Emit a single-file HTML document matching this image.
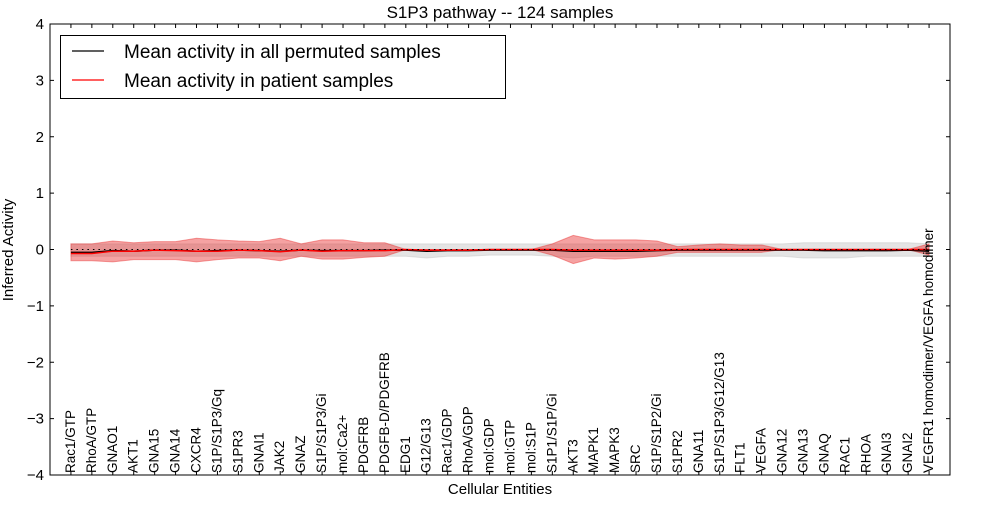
<!DOCTYPE html>
<html><head><meta charset="utf-8"><style>
body{margin:0;background:#fff;font-family:"Liberation Sans",sans-serif}
svg text{font-family:"Liberation Sans",sans-serif}
</style></head><body>
<svg id="c" width="1000" height="500"></svg>
<script>
const categories=["Rac1/GTP","RhoA/GTP","GNAO1","AKT1","GNA15","GNA14","CXCR4","S1P/S1P3/Gq","S1PR3","GNAI1","JAK2","GNAZ","S1P/S1P3/Gi","mol:Ca2+","PDGFRB","PDGFB-D/PDGFRB","EDG1","G12/G13","Rac1/GDP","RhoA/GDP","mol:GDP","mol:GTP","mol:S1P","S1P1/S1P/Gi","AKT3","MAPK1","MAPK3","SRC","S1P/S1P2/Gi","S1PR2","GNA11","S1P/S1P3/G12/G13","FLT1","VEGFA","GNA12","GNA13","GNAQ","RAC1","RHOA","GNAI3","GNAI2","VEGFR1 homodimer/VEGFA homodimer"];
const patientMean=[-0.07,-0.07,-0.03,-0.03,-0.01,-0.02,-0.03,-0.03,-0.01,-0.02,-0.04,-0.01,-0.03,-0.02,-0.02,-0.02,0,-0.01,-0.01,-0.01,0,0,0,0,-0.01,-0.01,-0.01,-0.01,-0.01,0,0,0,0,0,0,0,0,0,0,0,0,0];
const patientHi=[0.1,0.1,0.15,0.12,0.14,0.14,0.2,0.17,0.15,0.14,0.2,0.1,0.17,0.17,0.12,0.12,0,0,0,0,0,0,0,0.1,0.25,0.17,0.17,0.17,0.15,0.05,0.08,0.1,0.08,0.08,0,0,0,0,0,0,0,0.1];
const patientLo=[-0.2,-0.2,-0.22,-0.18,-0.18,-0.18,-0.22,-0.18,-0.15,-0.15,-0.2,-0.12,-0.17,-0.17,-0.14,-0.12,0,0,0,0,0,0,0,-0.1,-0.25,-0.15,-0.17,-0.15,-0.12,-0.05,-0.05,-0.05,-0.05,-0.05,0,0,0,0,0,0,0,-0.1];
const permMean=[-0.05,-0.05,-0.02,-0.03,-0.01,-0.01,-0.03,-0.02,-0.01,-0.02,-0.03,-0.01,-0.02,-0.02,-0.02,-0.01,-0.01,-0.03,-0.02,-0.02,-0.01,-0.01,-0.01,-0.01,-0.03,-0.03,-0.03,-0.03,-0.02,-0.01,-0.01,-0.01,-0.01,-0.01,-0.01,-0.01,-0.02,-0.02,-0.02,-0.02,-0.01,-0.03];
const permHi=[0.1,0.1,0.1,0.1,0.1,0.1,0.1,0.1,0.1,0.1,0.1,0.1,0.1,0.1,0.1,0.1,0.1,0.1,0.1,0.1,0.1,0.1,0.1,0.1,0.1,0.1,0.1,0.1,0.1,0.1,0.1,0.1,0.1,0.1,0.1,0.12,0.12,0.12,0.12,0.12,0.12,0.1];
const permLo=[-0.12,-0.12,-0.12,-0.12,-0.12,-0.12,-0.12,-0.12,-0.12,-0.12,-0.12,-0.12,-0.12,-0.12,-0.12,-0.12,-0.12,-0.15,-0.12,-0.12,-0.1,-0.1,-0.1,-0.12,-0.15,-0.12,-0.12,-0.12,-0.12,-0.12,-0.12,-0.12,-0.12,-0.12,-0.12,-0.15,-0.15,-0.15,-0.12,-0.12,-0.12,-0.12];
const yTicks=[-4,-3,-2,-1,0,1,2,3,4];
const yTickLabels=["\u22124","\u22123","\u22122","\u22121","0","1","2","3","4"];

const L=50,R=950,T=24,B=475;
const n=categories.length;
const X=i=>L+(i+1)*(R-L)/(n+1);
const Y=v=>T+(4-v)*(B-T)/8;
const svg=document.getElementById('c');
const NS='http://www.w3.org/2000/svg';
function mk(tag,attrs,parent){const e=document.createElementNS(NS,tag);for(const k in attrs)e.setAttribute(k,attrs[k]);(parent||svg).appendChild(e);return e;}
function band(hi,lo,fill,op,name){
  let d='M'+hi.map((v,i)=>X(i)+','+Y(v)).join('L');
  for(let i=n-1;i>=0;i--)d+='L'+X(i)+','+Y(lo[i]);
  const p=mk('path',{d:d+'Z',fill:fill,'fill-opacity':op,stroke:fill,'stroke-opacity':op,'stroke-width':1});
  
  
}
function line(vals,col,w,dash,name){
  const p=mk('path',{d:'M'+vals.map((v,i)=>X(i)+','+Y(v)).join('L'),fill:'none',stroke:col,'stroke-width':w});
  if(dash)p.setAttribute('stroke-dasharray',dash);
  
  
}
band(permHi,permLo,'#bbbbbb',0.4,'permuted-band');
band(patientHi,patientLo,'#e83030',0.45,'patient-band');
line(permMean,'#000',1.5,null,'permuted-mean-line');
line(patientMean,'#ff0000',1.5,null,'patient-mean-line');
const zl=mk('line',{x1:X(0),x2:X(n-1),y1:Y(0),y2:Y(0),stroke:'#000','stroke-width':1,'stroke-dasharray':'1.5,4'});


const frame=mk('rect',{x:L,y:T,width:R-L,height:B-T,fill:'none',stroke:'#000','stroke-width':1});


yTicks.forEach((t,i)=>{
  const y=Y(t);
  mk('line',{x1:L,x2:L+4,y1:y,y2:y,stroke:'#000'});
  mk('line',{x1:R-4,x2:R,y1:y,y2:y,stroke:'#000'});
  const tx=mk('text',{x:L-6,y:y+5,'text-anchor':'end','font-size':15});
  tx.textContent=yTickLabels[i];
  
  
});
categories.forEach((c,i)=>{
  const x=X(i);
  mk('line',{x1:x,x2:x,y1:B,y2:B-4,stroke:'#000'});
  mk('line',{x1:x,x2:x,y1:T,y2:T+4,stroke:'#000'});
  const bx=x+4;
  const tx=mk('text',{x:bx,y:B-2,'font-size':13.5,transform:'rotate(-90 '+bx+' '+(B-2)+')'});
  tx.textContent=c;
  
  
});
const title=mk('text',{x:500,y:18,'text-anchor':'middle','font-size':17});
title.textContent='S1P3 pathway -- 124 samples';


const xt=mk('text',{x:500,y:494,'text-anchor':'middle','font-size':15});
xt.textContent='Cellular Entities';


const yt=mk('text',{x:13,y:250,'text-anchor':'middle','font-size':15,transform:'rotate(-90 13 250)'});
yt.textContent='Inferred Activity';


const lg=mk('g',{});


mk('rect',{x:60.5,y:35.5,width:445,height:63,fill:'#fff',stroke:'#000'},lg);
mk('line',{x1:72,x2:104,y1:51,y2:51,stroke:'#000','stroke-width':1.2},lg);
mk('line',{x1:72,x2:104,y1:80,y2:80,stroke:'#f00','stroke-width':1.2},lg);
const t1=mk('text',{x:124,y:58,'font-size':19},lg);t1.textContent='Mean activity in all permuted samples';


const t2=mk('text',{x:124,y:87,'font-size':19},lg);t2.textContent='Mean activity in patient samples';


</script>
</body></html>
